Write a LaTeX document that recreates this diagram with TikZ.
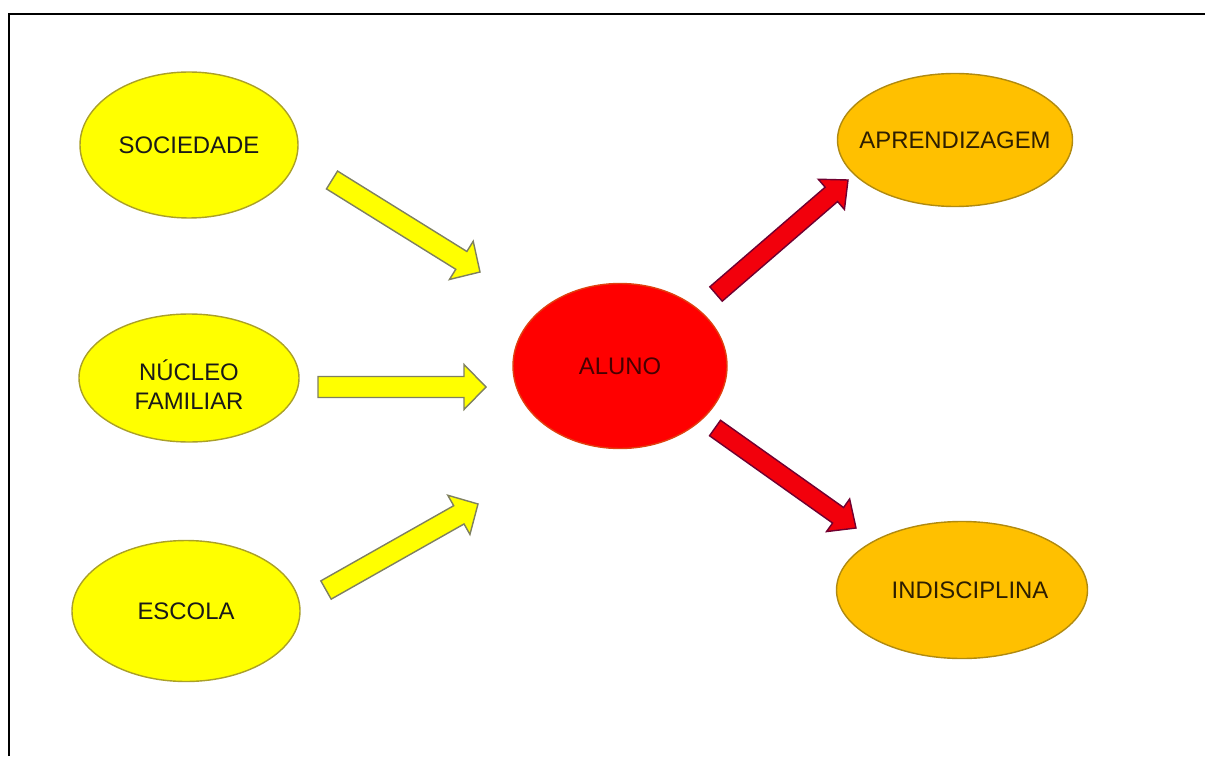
\documentclass[tikz,border=0pt]{standalone}
\usepackage{fontspec}
\setmainfont{Liberation Sans}
\usepackage{tikz}
\usetikzlibrary{calc,shapes.geometric,positioning}

\definecolor{ylfill}{RGB}{255,255,0}
\definecolor{yldraw}{RGB}{170,160,40}
\definecolor{orfill}{RGB}{255,192,0}
\definecolor{ordraw}{RGB}{176,138,16}
\definecolor{rdfill}{RGB}{255,0,0}
\definecolor{rddraw}{RGB}{224,64,16}
\definecolor{yaborder}{RGB}{127,128,96}
\definecolor{rafill}{RGB}{242,0,12}
\definecolor{raborder}{RGB}{112,0,48}

% block arrow: style, from, to, half shaft, half head
\newcommand{\blockarrow}[5]{%
  \coordinate (bh) at ($(#3)!0.22cm!(#2)$);
  \filldraw[#1] ($(#2)!#4!90:(#3)$) -- ($(bh)!#4!90:(#3)$) -- ($(bh)!#5!90:(#3)$) -- (#3)
    -- ($(bh)!#5!-90:(#3)$) -- ($(bh)!#4!-90:(#3)$) -- ($(#2)!#4!-90:(#3)$) -- cycle;}
% label text that does not widen the ellipse
\newcommand{\tight}[1]{\makebox[0pt]{#1}}

\begin{document}
\begin{tikzpicture}[
    every node/.style={font=\fontsize{6.8}{8.4}\selectfont, inner sep=0pt},
    inbox/.style={ellipse, fill=ylfill, draw=yldraw, line width=0.4pt, text=black!90},
    outbox/.style={ellipse, fill=orfill, draw=ordraw, line width=0.4pt, text={rgb,255:red,45;green,30;blue,0}},
    mainbox/.style={ellipse, fill=rdfill, draw=rddraw, line width=0.4pt, text={rgb,255:red,70;green,0;blue,0}},
    yarrow/.style={fill=ylfill, draw=yaborder, line width=0.4pt},
    rarrow/.style={fill=rafill, draw=raborder, line width=0.4pt}
  ]
    \useasboundingbox (0,0) rectangle (12.05,7.56);
    % Frame
    \draw[line width=0.6pt] (0.09,0) -- (0.09,7.42) -- (12.05,7.42);
    % Influences
    \node[inbox, minimum width=2.18cm, minimum height=1.46cm] (soc) at (1.89,6.11) {\tight{SOCIEDADE}};
    \node[inbox, minimum width=2.20cm, minimum height=1.28cm] (nuc) at (1.89,3.78)
      {\raisebox{-0.17cm}[0pt][0pt]{\begin{tabular}{@{}c@{}}NÚCLEO\\FAMILIAR\end{tabular}}};
    \node[inbox, minimum width=2.28cm, minimum height=1.41cm] (esc) at (1.86,1.45) {\tight{ESCOLA}};
    % Student
    \node[mainbox, minimum width=2.14cm, minimum height=1.65cm] (aluno) at (6.20,3.90) {\tight{ALUNO}};
    % Outcomes
    \node[outbox, minimum width=2.35cm, minimum height=1.33cm] (apr) at (9.55,6.16) {\tight{APRENDIZAGEM}};
    \node[outbox, minimum width=2.51cm, minimum height=1.37cm] (ind) at (9.62,1.66) {\tight{\hspace{0.16cm}INDISCIPLINA}};
    % Arrow ends
    \coordinate (soc-t) at (3.32,5.76);  \coordinate (soc-h) at (4.80,4.84);
    \coordinate (nuc-t) at (3.18,3.69);  \coordinate (nuc-h) at (4.86,3.69);
    \coordinate (esc-t) at (3.26,1.66);  \coordinate (esc-h) at (4.78,2.52);
    \coordinate (apr-t) at (7.16,4.62);  \coordinate (apr-h) at (8.48,5.76);
    \coordinate (ind-t) at (7.15,3.28);  \coordinate (ind-h) at (8.56,2.28);
    % Arrows in
    \blockarrow{yarrow}{soc-t}{soc-h}{0.105cm}{0.225cm}
    \blockarrow{yarrow}{nuc-t}{nuc-h}{0.105cm}{0.225cm}
    \blockarrow{yarrow}{esc-t}{esc-h}{0.105cm}{0.225cm}
    % Arrows out
    \blockarrow{rarrow}{apr-t}{apr-h}{0.095cm}{0.20cm}
    \blockarrow{rarrow}{ind-t}{ind-h}{0.095cm}{0.20cm}
  \end{tikzpicture}
\end{document}
